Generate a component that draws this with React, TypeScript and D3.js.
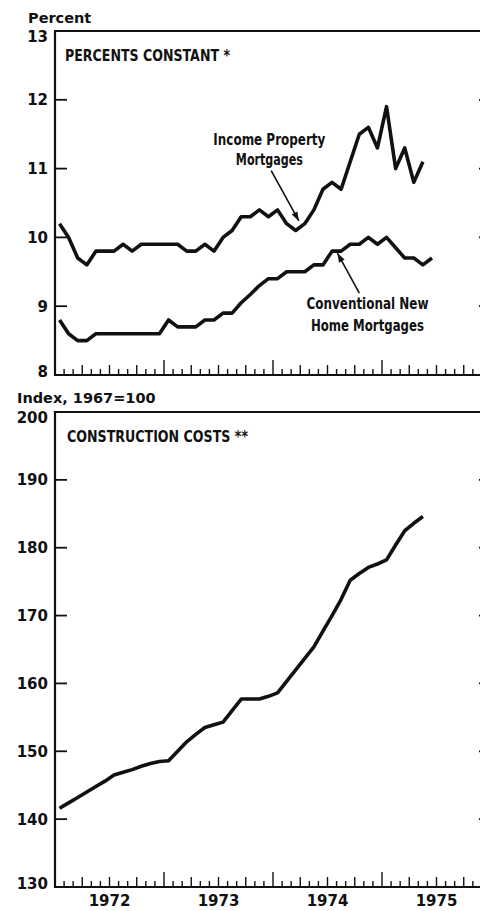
import React from "react";
import * as d3 from "d3";

// months counted from Jan 1972, one value per month
const yearLabels = ["1972", "1973", "1974", "1975"];

const incomeProperty = [
  10.2, 10.0, 9.7, 9.6, 9.8, 9.8, 9.8, 9.9, 9.8, 9.9, 9.9, 9.9,
  9.9, 9.9, 9.8, 9.8, 9.9, 9.8, 10.0, 10.1, 10.3, 10.3, 10.4, 10.3,
  10.4, 10.2, 10.1, 10.2, 10.4, 10.7, 10.8, 10.7, 11.1, 11.5, 11.6, 11.3,
  11.9, 11.0, 11.3, 10.8, 11.1,
];

const conventionalNew = [
  8.8, 8.6, 8.5, 8.5, 8.6, 8.6, 8.6, 8.6, 8.6, 8.6, 8.6, 8.6,
  8.8, 8.7, 8.7, 8.7, 8.8, 8.8, 8.9, 8.9, 9.05, 9.17, 9.3, 9.4,
  9.4, 9.5, 9.5, 9.5, 9.6, 9.6, 9.8, 9.8, 9.9, 9.9, 10.0, 9.9,
  10.0, 9.85, 9.7, 9.7, 9.6, 9.7,
];

const constructionCosts = [
  141.6, 142.4, 143.2, 144.0, 144.8, 145.6, 146.5, 146.9, 147.3, 147.8, 148.2, 148.5,
  148.6, 150.0, 151.4, 152.5, 153.5, 153.9, 154.3, 156.0, 157.7, 157.7, 157.7, 158.1,
  158.6, 160.3, 162.0, 163.7, 165.4, 167.7, 170.0, 172.4, 175.2, 176.2, 177.1, 177.6,
  178.2, 180.4, 182.5, 183.6, 184.6,
];

const rateTicks = [8, 9, 10, 11, 12, 13];
const costTicks = [130, 140, 150, 160, 170, 180, 190, 200];

const width = 480;
const height = 911;
const left = 55;
const right = 491;

const numFont = "'DejaVu Sans', sans-serif";
const condFont = "'DejaVu Sans Condensed', 'DejaVu Sans', sans-serif";

function Panel(props: {
  y: d3.ScaleLinear<number, number>;
  ticks: number[];
  unit: string;
  unitX: number;
  unitY: number;
  title: string;
  titleX: number;
  titleLen: number;
}) {
  const { y, ticks } = props;
  const x = d3.scaleLinear().domain([0, 48]).range([left, right]);
  const [y0, y1] = y.domain();
  const bottom = y(y0);
  const top = y(y1);
  const months = d3.range(0, 49);

  return (
    <g>
      <text x={props.unitX} y={props.unitY} fontFamily={numFont} fontWeight="bold" fontSize={14.5} fill="#111">
        {props.unit}
      </text>
      {/* frame */}
      <line x1={left} x2={left} y1={top - 1} y2={bottom} stroke="#111" strokeWidth={2.2} />
      <line x1={left} x2={right} y1={top} y2={top} stroke="#111" strokeWidth={1.8} />
      <line x1={right} x2={right} y1={top} y2={bottom} stroke="#111" strokeWidth={2} />
      <line x1={left - 1} x2={right} y1={bottom} y2={bottom} stroke="#111" strokeWidth={2.2} />
      {ticks.map((t, i) => (
        <g key={t}>
          {i > 0 && i < ticks.length - 1 && (
            <g>
              <line x1={left} x2={left + 12} y1={y(t)} y2={y(t)} stroke="#111" strokeWidth={1.8} />
              <line x1={right - 12} x2={right} y1={y(t)} y2={y(t)} stroke="#111" strokeWidth={1.8} />
            </g>
          )}
          <text
            x={48}
            y={y(t) + (i === ticks.length - 1 ? 11 : i === 0 ? 2 : 5.5)}
            textAnchor="end"
            fontFamily={numFont}
            fontWeight="bold"
            fontSize={15}
            fill="#111"
          >
            {t}
          </text>
        </g>
      ))}
      {months.map((m) => {
        const len = m % 12 === 0 ? 15 : m % 3 === 0 ? 10 : 6;
        return (
          <line key={m} x1={x(m)} x2={x(m)} y1={bottom} y2={bottom - len} stroke="#111" strokeWidth={1.4} />
        );
      })}
      <text
        x={props.titleX}
        y={top + 30}
        fontFamily={condFont}
        fontWeight="bold"
        fontSize={16.5}
        textLength={props.titleLen}
        lengthAdjust="spacingAndGlyphs"
        fill="#111"
      >
        {props.title}
      </text>
    </g>
  );
}

export default function App() {
  const x = d3.scaleLinear().domain([0, 48]).range([left, right]);
  const yRate = d3.scaleLinear().domain([8, 13]).range([375, 31]);
  const yCost = d3.scaleLinear().domain([130, 200]).range([887, 412]);

  const rateLine = d3
    .line<number>()
    .x((d, i) => x(i + 0.5))
    .y((d) => yRate(d));
  const costLine = d3
    .line<number>()
    .x((d, i) => x(i + 0.5))
    .y((d) => yCost(d));

  const arrow = (fx: number, fy: number, tx: number, ty: number) => {
    const x1 = x(fx), y1 = yRate(fy), x2 = x(tx), y2 = yRate(ty);
    const a = Math.atan2(y2 - y1, x2 - x1);
    const L = 9, w = 3.2;
    const p1 = [x2 - L * Math.cos(a) + w * Math.sin(a), y2 - L * Math.sin(a) - w * Math.cos(a)];
    const p2 = [x2 - L * Math.cos(a) - w * Math.sin(a), y2 - L * Math.sin(a) + w * Math.cos(a)];
    return (
      <g>
        <line x1={x1} y1={y1} x2={x2} y2={y2} stroke="#111" strokeWidth={1.6} />
        <path d={`M${x2},${y2}L${p1[0]},${p1[1]}L${p2[0]},${p2[1]}Z`} fill="#111" />
      </g>
    );
  };

  return (
    <div style={{ position: "absolute", left: 0, top: 0 }}>
      <svg width={width} height={height} style={{ display: "block", background: "#fff" }}>
        <Panel
          y={yRate}
          ticks={rateTicks}
          unit="Percent"
          unitX={28}
          unitY={23}
          title="PERCENTS CONSTANT *"
          titleX={65}
          titleLen={165}
        />
        <Panel
          y={yCost}
          ticks={costTicks}
          unit="Index, 1967=100"
          unitX={17}
          unitY={403}
          title="CONSTRUCTION COSTS **"
          titleX={67}
          titleLen={181}
        />
        <path d={rateLine(incomeProperty) || ""} fill="none" stroke="#111" strokeWidth={3.6} strokeLinejoin="round" />
        <path d={rateLine(conventionalNew) || ""} fill="none" stroke="#111" strokeWidth={3.6} strokeLinejoin="round" />
        <path d={costLine(constructionCosts) || ""} fill="none" stroke="#111" strokeWidth={3.6} strokeLinejoin="round" />

        {/* annotations */}
        <text x={x(23.6)} y={145} textAnchor="middle" fontFamily={condFont} fontWeight="bold" fontSize={16} textLength={112} lengthAdjust="spacingAndGlyphs" fill="#111">
          Income Property
        </text>
        <text x={x(23.6)} y={165} textAnchor="middle" fontFamily={condFont} fontWeight="bold" fontSize={16} textLength={67} lengthAdjust="spacingAndGlyphs" fill="#111">
          Mortgages
        </text>
        {arrow(23.8, 10.97, 26.85, 10.24)}
        <text x={x(34.4)} y={309} textAnchor="middle" fontFamily={condFont} fontWeight="bold" fontSize={16} textLength={122} lengthAdjust="spacingAndGlyphs" fill="#111">
          Conventional New
        </text>
        <text x={x(34.4)} y={331} textAnchor="middle" fontFamily={condFont} fontWeight="bold" fontSize={16} textLength={113} lengthAdjust="spacingAndGlyphs" fill="#111">
          Home Mortgages
        </text>
        {arrow(33.5, 9.19, 31.1, 9.77)}

        {yearLabels.map((yl, i) => (
          <text
            key={yl}
            x={x(i * 12 + 6)}
            y={906}
            textAnchor="middle"
            fontFamily={numFont}
            fontWeight="bold"
            fontSize={15}
            fill="#111"
          >
            {yl}
          </text>
        ))}
      </svg>
    </div>
  );
}
